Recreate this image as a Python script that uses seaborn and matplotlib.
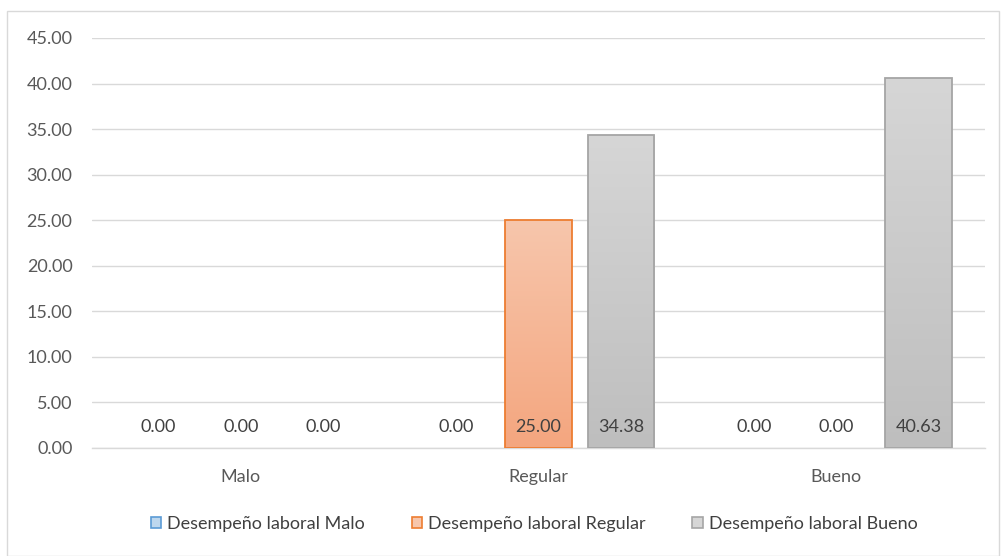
import numpy as np
import pandas as pd
import matplotlib
matplotlib.use("Agg")
import matplotlib.pyplot as plt
import seaborn as sns
from matplotlib.patches import Patch, Rectangle
from matplotlib.colors import LinearSegmentedColormap

# Chart data
categories = ["Malo", "Regular", "Bueno"]
series = ["Desempeño laboral Malo", "Desempeño laboral Regular", "Desempeño laboral Bueno"]
vals_malo = [0.00, 0.00, 0.00]
vals_regular = [0.00, 25.00, 0.00]
vals_bueno = [0.00, 34.38, 40.63]
y_ticks = [0, 5, 10, 15, 20, 25, 30, 35, 40, 45]

df = pd.DataFrame({
    "categoria": categories * 3,
    "serie": [series[0]] * 3 + [series[1]] * 3 + [series[2]] * 3,
    "valor": vals_malo + vals_regular + vals_bueno,
})

sns.set_theme(style="white")
plt.rcParams["font.family"] = ["Lato", "DejaVu Sans"]

edge_colors = ["#5B9BD5", "#ED7D31", "#A5A5A5"]
grad_top = ["#BDD7EE", "#F7C6AC", "#D6D6D6"]
grad_bot = ["#9DC3E6", "#F4A67F", "#BEBEBE"]
FS = 13

fig = plt.figure(figsize=(10.01, 5.56), dpi=100)
ax = fig.add_axes([92 / 1001, 108 / 556, (985 - 92) / 1001, (448 - 38) / 556])

sns.barplot(data=df, x="categoria", y="valor", hue="serie", order=categories,
            hue_order=series, palette=edge_colors, width=0.83, gap=0.19,
            ax=ax, legend=False, saturation=1)

# Gradient fill and outline for every bar
n_cat = len(categories)
for i, cont in enumerate(ax.containers):
    cmap = LinearSegmentedColormap.from_list("g%d" % i, [grad_bot[i], grad_top[i]])
    for j, patch in enumerate(cont.patches):
        x0, w = patch.get_x(), patch.get_width()
        h = patch.get_height()
        patch.set_facecolor("none")
        patch.set_edgecolor(edge_colors[i])
        patch.set_linewidth(1.3 if h > 0 else 0)
        patch.set_zorder(3)
        if h > 0:
            grad = np.linspace(0, 1, 256).reshape(-1, 1)
            im = ax.imshow(grad, cmap=cmap, origin="lower", aspect="auto",
                           extent=[x0, x0 + w, 0, h], zorder=2)
            im.set_clip_path(patch)
        # value label just above the base of the bar
        ax.annotate(f"{h:.2f}", xy=(x0 + w / 2, 0), xytext=(0, 9),
                    textcoords="offset points", ha="center", va="bottom",
                    fontsize=FS, color="#404040", zorder=4)

ax.set_xlim(-0.5, n_cat - 0.5)
ax.set_ylim(0, 45)
ax.set_yticks(y_ticks)
ax.set_yticklabels([f"{t:.2f}" for t in y_ticks])
ax.yaxis.grid(True, color="#D9D9D9", linewidth=1)
ax.set_axisbelow(True)
for s in ["top", "right", "left"]:
    ax.spines[s].set_visible(False)
ax.spines["bottom"].set_color("#D9D9D9")
ax.spines["bottom"].set_linewidth(1)
ax.tick_params(axis="both", length=0, labelsize=FS, labelcolor="#595959")
ax.tick_params(axis="x", pad=15)
ax.tick_params(axis="y", pad=14)
ax.set_xlabel("")
ax.set_ylabel("")

handles = [Patch(facecolor=grad_top[i], edgecolor=edge_colors[i], linewidth=1.2)
           for i in range(3)]
fig.legend(handles, series, loc="center", bbox_to_anchor=(534 / 1001, 1 - 524 / 556),
           ncol=3, frameon=False, fontsize=FS, handlelength=0.6, handleheight=0.6,
           handletextpad=0.3, columnspacing=2.6, labelcolor="#404040")

# Chart area border
fig.patches.append(Rectangle((7 / 1001, 0.5 / 556), (999 - 7) / 1001, (545) / 556,
                             transform=fig.transFigure, fill=False,
                             edgecolor="#D9D9D9", linewidth=1))

fig.savefig("out.png", dpi=100)
